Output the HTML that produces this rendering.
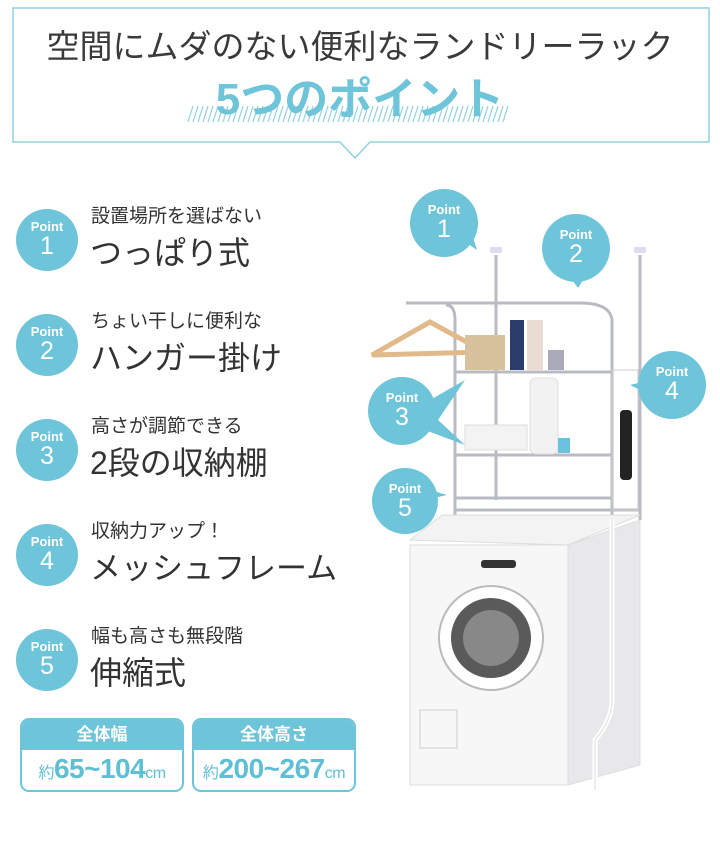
<!DOCTYPE html>
<html><head><meta charset="utf-8"><style>
body{margin:0;width:720px;height:864px;background:#fff;position:relative;overflow:hidden;font-family:"Liberation Sans","Noto Sans CJK JP",sans-serif;color:#333}
.a{position:absolute;white-space:nowrap}
.c{position:absolute;width:62px;height:62px;border-radius:50%;background:#6ec4d8;color:#fff;text-align:center}
.c .p{font-size:13px;font-weight:bold;margin-top:11px;line-height:13px}
.c .n{font-size:25px;line-height:26px}
.s{font-size:19px;color:#333}
.b{font-size:32px;color:#333}
.box{position:absolute;border:2px solid #6ec4d8;border-radius:9px;overflow:hidden;background:#fff}
.box .h{background:#6ec4d8;color:#fff;font-weight:bold;font-size:17px;text-align:center;height:30px;line-height:30px}
.box .v{color:#5fbfd5;font-weight:bold;font-size:28px;text-align:center;line-height:38px;letter-spacing:-0.5px}
.box .v small{font-size:16px;font-weight:normal}
</style></head><body>
<svg class="a" style="left:0;top:0" width="720" height="864">
<path d="M13,8 H709 V142 H370 L355,158 L340,142 H13 Z" fill="none" stroke="#8fd1e0" stroke-width="1.5"/>
<g stroke="#8fd1e0" stroke-width="1.2">
<path d="M188,122 l5,-16 M193,122 l5,-16 M198,122 l5,-16 M203,122 l5,-16 M208,122 l5,-16 M213,122 l5,-16 M218,122 l5,-16 M223,122 l5,-16 M228,122 l5,-16 M233,122 l5,-16 M238,122 l5,-16 M243,122 l5,-16 M248,122 l5,-16 M253,122 l5,-16 M258,122 l5,-16 M263,122 l5,-16 M268,122 l5,-16 M273,122 l5,-16 M278,122 l5,-16 M283,122 l5,-16 M288,122 l5,-16 M293,122 l5,-16 M298,122 l5,-16 M303,122 l5,-16 M308,122 l5,-16 M313,122 l5,-16 M318,122 l5,-16 M323,122 l5,-16 M328,122 l5,-16 M333,122 l5,-16 M338,122 l5,-16 M343,122 l5,-16 M348,122 l5,-16 M353,122 l5,-16 M358,122 l5,-16 M363,122 l5,-16 M368,122 l5,-16 M373,122 l5,-16 M378,122 l5,-16 M383,122 l5,-16 M388,122 l5,-16 M393,122 l5,-16 M398,122 l5,-16 M403,122 l5,-16 M408,122 l5,-16 M413,122 l5,-16 M418,122 l5,-16 M423,122 l5,-16 M428,122 l5,-16 M433,122 l5,-16 M438,122 l5,-16 M443,122 l5,-16 M448,122 l5,-16 M453,122 l5,-16 M458,122 l5,-16 M463,122 l5,-16 M468,122 l5,-16 M473,122 l5,-16 M478,122 l5,-16 M483,122 l5,-16 M488,122 l5,-16 M493,122 l5,-16 M498,122 l5,-16 M503,122 l5,-16"/>
</g>
<!-- rack -->
<g stroke="#b8bcc2" stroke-width="3" fill="none">
<line x1="496" y1="255" x2="496" y2="500"/>
<line x1="640" y1="255" x2="640" y2="520"/>
<path d="M406,303 H580 Q610,303 612,320 V520"/>
<path d="M446,305 Q455,305 455,320 V520"/>
<line x1="455" y1="372" x2="612" y2="372"/>
<line x1="455" y1="455" x2="612" y2="455"/>
<line x1="455" y1="498" x2="612" y2="498"/>
<line x1="455" y1="510" x2="640" y2="510"/>
</g>
<rect x="612" y="370" width="26" height="140" fill="none" stroke="#ccc" stroke-width="1"/>
<rect x="490" y="247" width="12" height="6" fill="#dde"/><rect x="634" y="247" width="12" height="6" fill="#dde"/>
<path d="M372,355 L430,322 L485,352 Z" fill="none" stroke="#e1b98a" stroke-width="5"/>
<rect x="465" y="335" width="40" height="35" fill="#d7c29c"/>
<rect x="510" y="320" width="14" height="50" fill="#2c3c6a"/><rect x="527" y="320" width="16" height="50" fill="#eadbd3"/>
<rect x="548" y="350" width="16" height="20" fill="#aab"/>
<rect x="530" y="378" width="28" height="76" rx="6" fill="#f2f2f2" stroke="#ddd"/>
<rect x="465" y="425" width="62" height="25" fill="#f3f3f3" stroke="#ddd"/>
<rect x="558" y="438" width="12" height="15" fill="#6cc0e0"/>
<rect x="620" y="410" width="12" height="70" rx="4" fill="#222"/>
<!-- washer -->
<path d="M410,540 L442,515 H640 L568,545 Z" fill="#f3f3f3" stroke="#ddd"/>
<rect x="410" y="545" width="158" height="240" fill="#f7f7f7" stroke="#ddd"/>
<path d="M568,545 L640,520 V765 L568,785 Z" fill="#e8e8ea" stroke="#ddd"/>
<rect x="481" y="560" width="35" height="8" rx="3" fill="#333"/>
<circle cx="491" cy="638" r="52" fill="#fff" stroke="#bbb" stroke-width="2"/>
<circle cx="491" cy="638" r="40" fill="#5a5a5a"/>
<circle cx="491" cy="638" r="28" fill="#888"/>
<rect x="420" y="710" width="37" height="38" fill="none" stroke="#ccc"/>
<path d="M612,520 V700 Q612,720 595,740 V790" stroke="#fff" stroke-width="5" fill="none"/>
<path d="M612,520 V700 Q612,720 595,740 V790" stroke="#ddd" stroke-width="1" fill="none"/>
<!-- callout tails -->
<g fill="#6ec4d8">
<path d="M462,240 L477,250 L470,228 Z"/>
<path d="M565,270 L578,288 L588,272 Z"/>
<path d="M430,400 L465,380 L438,420 L465,445 L425,430 Z"/>
<path d="M650,380 L630,385 L650,395 Z"/>
<path d="M425,500 L447,495 L430,490 Z"/>
</g>
</svg>
<div class="a" style="left:0;width:720px;top:20px;text-align:center;font-size:33px;color:#3a3a3a">空間にムダのない便利なランドリーラック</div>
<div class="a" style="left:0;width:720px;top:63px;text-align:center;font-size:44px;font-weight:bold;color:#6ec4d8">5つのポイント</div>

<div class="c" style="left:16px;top:209px"><div class="p">Point</div><div class="n">1</div></div>
<div class="a s" style="left:91px;top:201px">設置場所を選ばない</div>
<div class="a b" style="left:90px;top:228px">つっぱり式</div>
<div class="c" style="left:16px;top:314px"><div class="p">Point</div><div class="n">2</div></div>
<div class="a s" style="left:91px;top:306px">ちょい干しに便利な</div>
<div class="a b" style="left:90px;top:333px">ハンガー掛け</div>
<div class="c" style="left:16px;top:419px"><div class="p">Point</div><div class="n">3</div></div>
<div class="a s" style="left:91px;top:411px">高さが調節できる</div>
<div class="a b" style="left:90px;top:438px">2段の収納棚</div>
<div class="c" style="left:16px;top:524px"><div class="p">Point</div><div class="n">4</div></div>
<div class="a s" style="left:91px;top:516px">収納力アップ！</div>
<div class="a b" style="left:90px;top:543px;font-size:31px">メッシュフレーム</div>
<div class="c" style="left:16px;top:629px"><div class="p">Point</div><div class="n">5</div></div>
<div class="a s" style="left:91px;top:621px">幅も高さも無段階</div>
<div class="a b" style="left:90px;top:648px">伸縮式</div>

<div class="c" style="left:410px;top:189px;width:68px;height:68px"><div class="p" style="margin-top:14px">Point</div><div class="n">1</div></div>
<div class="c" style="left:542px;top:214px;width:68px;height:68px"><div class="p" style="margin-top:14px">Point</div><div class="n">2</div></div>
<div class="c" style="left:368px;top:377px;width:68px;height:68px"><div class="p" style="margin-top:14px">Point</div><div class="n">3</div></div>
<div class="c" style="left:638px;top:351px;width:68px;height:68px"><div class="p" style="margin-top:14px">Point</div><div class="n">4</div></div>
<div class="c" style="left:372px;top:468px;width:66px;height:66px"><div class="p" style="margin-top:14px">Point</div><div class="n">5</div></div>

<div class="box" style="left:20px;top:718px;width:160px;height:70px"><div class="h">全体幅</div><div class="v"><small>約</small>65~104<small>cm</small></div></div>
<div class="box" style="left:192px;top:718px;width:160px;height:70px"><div class="h">全体高さ</div><div class="v"><small>約</small>200~267<small>cm</small></div></div>
</body></html>
